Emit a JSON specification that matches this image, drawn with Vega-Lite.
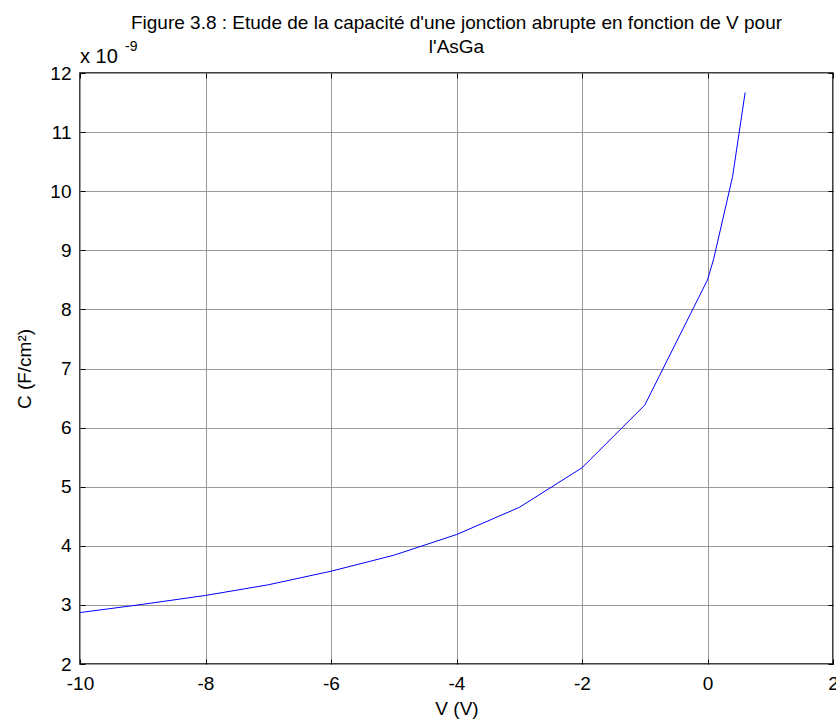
{
  "$schema": "https://vega.github.io/schema/vega-lite/v6.json",
  "width": 753,
  "height": 591,
  "autosize": {"type": "none"},
  "padding": {"left": 80, "top": 73, "right": 3, "bottom": 58},
  "background": "white",
  "config": {
    "font": "Liberation Sans",
    "view": {"stroke": "black", "strokeWidth": 1.5},
    "axis": {"labelFont": "Liberation Sans", "titleFont": "Liberation Sans", "titleFontWeight": "normal", "labelColor": "black", "titleColor": "black"}
  },
  "title": {
    "text": ["Figure 3.8 : Etude de la capacité d'une jonction abrupte en fonction de V pour", "l'AsGa"],
    "font": "Liberation Sans",
    "fontSize": 19,
    "fontWeight": "normal",
    "color": "black",
    "anchor": "middle",
    "frame": "group",
    "lineHeight": 24,
    "offset": -17
  },
  "data": {
    "values": [
      {"V": -10, "C": 2.87},
      {"V": -9, "C": 3.01},
      {"V": -8, "C": 3.16},
      {"V": -7, "C": 3.34},
      {"V": -6, "C": 3.57},
      {"V": -5, "C": 3.84},
      {"V": -4, "C": 4.19},
      {"V": -3, "C": 4.65},
      {"V": -2, "C": 5.32},
      {"V": -1, "C": 6.38},
      {"V": 0, "C": 8.5},
      {"V": 0.1, "C": 8.86},
      {"V": 0.4, "C": 10.25},
      {"V": 0.6, "C": 11.67}
    ]
  },
  "layer": [
    {
      "mark": {"type": "line", "color": "#0000ff", "strokeWidth": 1, "clip": true},
      "encoding": {
        "x": {
          "field": "V", "type": "quantitative",
          "scale": {"domain": [-10, 2], "nice": false, "zero": false},
          "axis": {"title": "V (V)", "titleFontSize": 19, "titlePadding": 6, "values": [-10, -8, -6, -4, -2, 0, 2], "labelExpr": "replace(datum.label, '−', '-')", "labelFontSize": 19, "labelPadding": 15, "tickSize": -5, "tickColor": "black", "domain": false, "grid": true, "gridColor": "#999999", "gridWidth": 1, "labelFlush": false}
        },
        "y": {
          "field": "C", "type": "quantitative",
          "scale": {"domain": [2, 12], "nice": false, "zero": false},
          "axis": {"title": "C (F/cm²)", "titleFontSize": 19, "titlePadding": 15, "values": [2, 3, 4, 5, 6, 7, 8, 9, 10, 11, 12], "labelFontSize": 19, "labelPadding": 14, "tickSize": -5, "tickColor": "black", "domain": false, "grid": true, "gridColor": "#999999", "gridWidth": 1, "labelFlush": false}
        }
      }
    },
    {
      "data": {"values": [{"label": "x 10"}]},
      "mark": {"type": "text", "align": "left", "baseline": "alphabetic", "fontSize": 20, "dy": -10, "font": "Liberation Sans", "color": "black"},
      "encoding": {
        "x": {"datum": -10, "type": "quantitative", "axis": {"orient": "top", "values": [-10, -8, -6, -4, -2, 0, 2], "labels": false, "title": null, "tickSize": -5, "tickColor": "black", "domain": false, "grid": false}},
        "y": {"datum": 12, "type": "quantitative", "axis": {"orient": "right", "values": [2, 3, 4, 5, 6, 7, 8, 9, 10, 11, 12], "labels": false, "title": null, "tickSize": -5, "tickColor": "black", "domain": false, "grid": false}},
        "text": {"field": "label"}
      }
    },
    {
      "data": {"values": [{"label": "-9"}]},
      "mark": {"type": "text", "align": "left", "baseline": "alphabetic", "fontSize": 14, "dx": 45, "dy": -22, "font": "Liberation Sans", "color": "black"},
      "encoding": {
        "x": {"datum": -10, "type": "quantitative", "axis": null},
        "y": {"datum": 12, "type": "quantitative", "axis": null},
        "text": {"field": "label"}
      }
    }
  ],
  "resolve": {"axis": {"x": "independent", "y": "independent"}}
}
